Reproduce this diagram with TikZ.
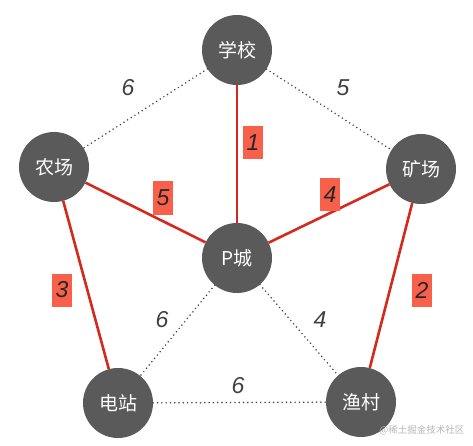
\documentclass[tikz,border=0pt]{standalone}
\usepackage{fontspec}
\setmainfont{Liberation Sans}
\newfontfamily\cjk{Noto Sans CJK SC}
\definecolor{nodegray}{HTML}{5A5A5A}
\definecolor{mstred}{HTML}{D42A1E}
\definecolor{boxred}{HTML}{F9604B}
\definecolor{dotgray}{HTML}{444444}
\definecolor{wgray}{HTML}{B8B8B8}
\begin{document}
\begin{tikzpicture}[x=1pt,y=-1pt,
  city/.style={circle,fill=nodegray,minimum size=70pt,inner sep=0pt,text=white,font=\cjk\fontsize{19}{19}\selectfont},
  mst/.style={draw=mstred,line width=2.6pt},
  dotedge/.style={draw=dotgray,line width=1.7pt,line cap=round,dash pattern=on 0pt off 4.3pt},
  wlabel/.style={font=\itshape\fontsize{23}{23}\selectfont,text=black!75},
  boxlabel/.style={rectangle,fill=boxred,minimum width=20pt,minimum height=33pt,inner sep=0pt,font=\itshape\fontsize{23}{23}\selectfont,text=black!85}
]
\useasboundingbox (0,0) rectangle (473,446);
\fill[white] (0,0) rectangle (473,446);
\node[city] (school) at (237,50) {学校};
\node[city] (farm) at (54,167) {农场};
\node[city] (mine) at (421,169) {矿场};
\node[city] (pcity) at (237,258) {P城};
\node[city] (power) at (118,403) {电站};
\node[city] (fish) at (361,402) {渔村};
% dotted edges
\draw[dotedge] (school) -- (farm);
\draw[dotedge] (school) -- (mine);
\draw[dotedge] (pcity) -- (power);
\draw[dotedge] (pcity) -- (fish);
\draw[dotedge] (power) -- (fish);
% MST edges
\draw[mst] (school) -- (pcity);
\draw[mst] (pcity) -- (farm);
\draw[mst] (pcity) -- (mine);
\draw[mst] (farm) -- (power);
\draw[mst] (mine) -- (fish);
% weights
\node[wlabel] (w1) at (128,88) {6};
\node[wlabel] (w2) at (343,88) {5};
\node[wlabel] (w3) at (162,320) {6};
\node[wlabel] (w4) at (320,320) {4};
\node[wlabel] (w5) at (238,386) {6};
\node[boxlabel] (b1) at (253,143) {1};
\node[boxlabel] (b2) at (163,198) {5};
\node[boxlabel] (b3) at (330,195) {4};
\node[boxlabel] (b4) at (62,290) {3};
\node[boxlabel] (b5) at (422,290) {2};
\node[text=wgray,font=\cjk\fontsize{9.5}{10}\selectfont,anchor=east] (wm) at (468,430) {@稀土掘金技术社区};
\end{tikzpicture}
\end{document}
